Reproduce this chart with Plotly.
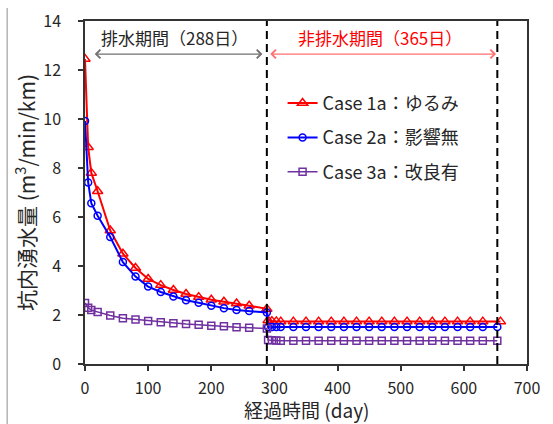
import plotly.graph_objects as go

# ---- data ----
days_drain = [0, 5, 10, 20, 40, 60, 80, 100, 120, 140, 160, 180, 200, 220, 240, 260, 288]
days_after = [290, 296, 303, 310, 330, 350, 370, 390, 410, 430, 450, 470, 490,
              510, 530, 550, 570, 590, 610, 630, 653]
red_last_day = 658

case1_drain = [12.45, 8.85, 7.8, 7.05, 5.45, 4.5, 3.92, 3.47, 3.22, 3.02, 2.86, 2.73,
               2.62, 2.54, 2.47, 2.38, 2.25]
case1_after = [1.78, 1.75, 1.74, 1.73, 1.73, 1.73, 1.73, 1.73, 1.73, 1.73, 1.73, 1.73,
               1.73, 1.73, 1.73, 1.73, 1.73, 1.73, 1.73, 1.73, 1.73]
case2_drain = [9.92, 7.41, 6.56, 6.05, 5.18, 4.16, 3.57, 3.16, 2.94, 2.76, 2.6, 2.5,
               2.38, 2.28, 2.2, 2.16, 2.1]
case2_after = [1.5, 1.51, 1.51, 1.51, 1.51, 1.51, 1.51, 1.51, 1.51, 1.51, 1.51, 1.51,
               1.51, 1.51, 1.51, 1.51, 1.51, 1.51, 1.51, 1.51, 1.51]
case3_drain = [2.49, 2.3, 2.2, 2.12, 1.98, 1.87, 1.82, 1.76, 1.7, 1.66, 1.63, 1.6,
               1.56, 1.54, 1.5, 1.48, 1.45]
case3_after = [0.98, 0.97, 0.96, 0.95, 0.95, 0.95, 0.95, 0.95, 0.95, 0.95, 0.95, 0.95,
               0.95, 0.95, 0.95, 0.95, 0.95, 0.95, 0.95, 0.95, 0.95]

names = ["Case 1a：ゆるみ", "Case 2a：影響無", "Case 3a：改良有"]
drain_end = 288
test_end = 653
drain_label = "排水期間（288日）"
after_label = "非排水期間（365日）"
x_title = "経過時間 (day)"
y_title = "坑内湧水量 (m<sup>3</sup>/min/km)"

x_ticks = [0, 100, 200, 300, 400, 500, 600, 700]
y_ticks = [0, 2, 4, 6, 8, 10, 12, 14]

FONT = "Noto Sans CJK JP, Noto Sans, sans-serif"
TXT = "#262626"

days_all = days_drain + days_after
days_red = days_drain + days_after[:-1] + [red_last_day]

fig = go.Figure()
fig.add_trace(go.Scatter(
    x=days_red, y=case1_drain + case1_after, name=names[0], mode="lines+markers",
    legendgroup="a",
    line=dict(color="#ff0000", width=2),
    marker=dict(symbol="triangle-up-open", size=9, color="#ff0000", line=dict(width=1.5))))
fig.add_trace(go.Scatter(
    x=days_all, y=case2_drain + case2_after, name=names[1], mode="lines+markers",
    legendgroup="b",
    line=dict(color="#0000ff", width=2),
    marker=dict(symbol="circle-open", size=7, color="#0000ff", line=dict(width=1.5))))
fig.add_trace(go.Scatter(
    x=days_all, y=case3_drain + case3_after, name=names[2], mode="lines+markers",
    legendgroup="c",
    line=dict(color="#7030a0", width=1.5),
    marker=dict(symbol="square-open", size=7, color="#7030a0", line=dict(width=1.5))))

# dashed period lines
for xv in (drain_end, test_end):
    fig.add_shape(type="line", xref="x", yref="paper", x0=xv, x1=xv, y0=0, y1=1,
                  line=dict(color="#000000", width=2, dash="8px,5px"))

# left border of the picture frame
fig.add_shape(type="line", xref="paper", yref="paper", x0=-0.176, x1=-0.176,
              y0=1.038, y1=-0.2, line=dict(color="#b4b4b4", width=1.5))

# period arrows
fig.add_annotation(x=281, y=12.65, ax=13, ay=12.65, axref="x", ayref="y",
                   xref="x", yref="y", text="", showarrow=True, arrowside="end+start",
                   arrowhead=4, arrowsize=1.4, arrowwidth=1.2, arrowcolor="#707070")
fig.add_annotation(x=651, y=12.65, ax=291, ay=12.65, axref="x", ayref="y",
                   xref="x", yref="y", text="", showarrow=True, arrowside="end+start",
                   arrowhead=4, arrowsize=1.4, arrowwidth=1.2, arrowcolor="#ff7070")
fig.add_annotation(x=141, y=13.33, xref="x", yref="y", text=drain_label, showarrow=False,
                   font=dict(family=FONT, size=17, color=TXT))
fig.add_annotation(x=467, y=13.33, xref="x", yref="y", text=after_label, showarrow=False,
                   font=dict(family=FONT, size=17, color="#ff0000"))
# x axis title (placed as an annotation so it fits inside the picture)
fig.add_annotation(x=0.5, y=-0.133, xref="paper", yref="paper", text=x_title,
                   showarrow=False, xanchor="center", yanchor="middle",
                   font=dict(family=FONT, size=19, color=TXT))

axis_common = dict(showgrid=False, zeroline=False, showline=True, linecolor="#333333",
                   linewidth=1.5, mirror=True, ticks="outside", ticklen=5,
                   tickcolor="#333333", tickwidth=1.5, automargin=False,
                   tickfont=dict(family=FONT, size=16, color=TXT))

fig.update_layout(
    width=553, height=424,
    margin=dict(l=85, r=26, t=21, b=60),
    paper_bgcolor="white", plot_bgcolor="white",
    font=dict(family=FONT, color=TXT),
    xaxis=dict(range=[0, 700], tickvals=x_ticks, ticklabelstandoff=4,
               **axis_common),
    yaxis=dict(range=[0, 14], tickvals=y_ticks, ticklabelstandoff=14,
               title=dict(text=y_title,
                          font=dict(family=FONT, size=21, color=TXT), standoff=2),
               **axis_common),
    legend=dict(x=0.447, y=0.814, xanchor="left", yanchor="top", bgcolor="rgba(0,0,0,0)",
                font=dict(family=FONT, size=18, color=TXT), tracegroupgap=8,
                itemwidth=30),
    showlegend=True,
)

fig.write_html("out.html", post_script="document.body.style.margin='0px';",
               config={"displayModeBar": False})
